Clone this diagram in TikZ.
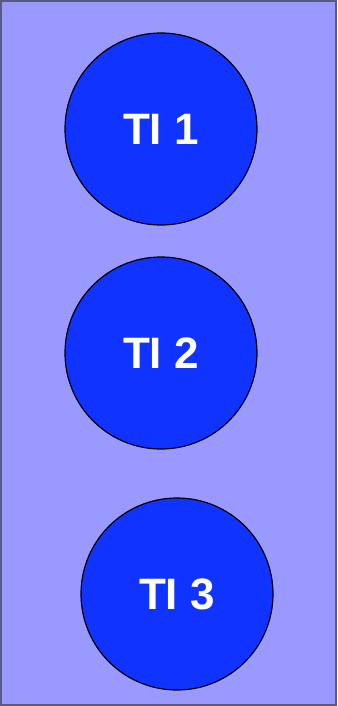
\documentclass[tikz,border=0pt]{standalone}
\usepackage{fontspec}
\setmainfont{Liberation Sans}
\usepackage{xcolor}
\definecolor{panelfill}{HTML}{9999FF}
\definecolor{panelline}{HTML}{5A5A80}
\definecolor{tiblue}{HTML}{1133FF}

\begin{document}
\begin{tikzpicture}[x=1pt, y=-1pt,
  ti/.style={circle, draw=black, line width=1.2pt, fill=tiblue, minimum size=192pt,
             inner sep=0pt, text=white, font=\bfseries\fontsize{44}{48}\selectfont},
]
\useasboundingbox (0,0) rectangle (337,706);
\draw[panelline, fill=panelfill, line width=2pt] (1,1) rectangle (336,705);
\node[ti] (ti1) at (161,129) {TI 1};
\node[ti] (ti2) at (161,353) {TI 2};
\node[ti] (ti3) at (177,594) {TI 3};
\end{tikzpicture}
\end{document}
